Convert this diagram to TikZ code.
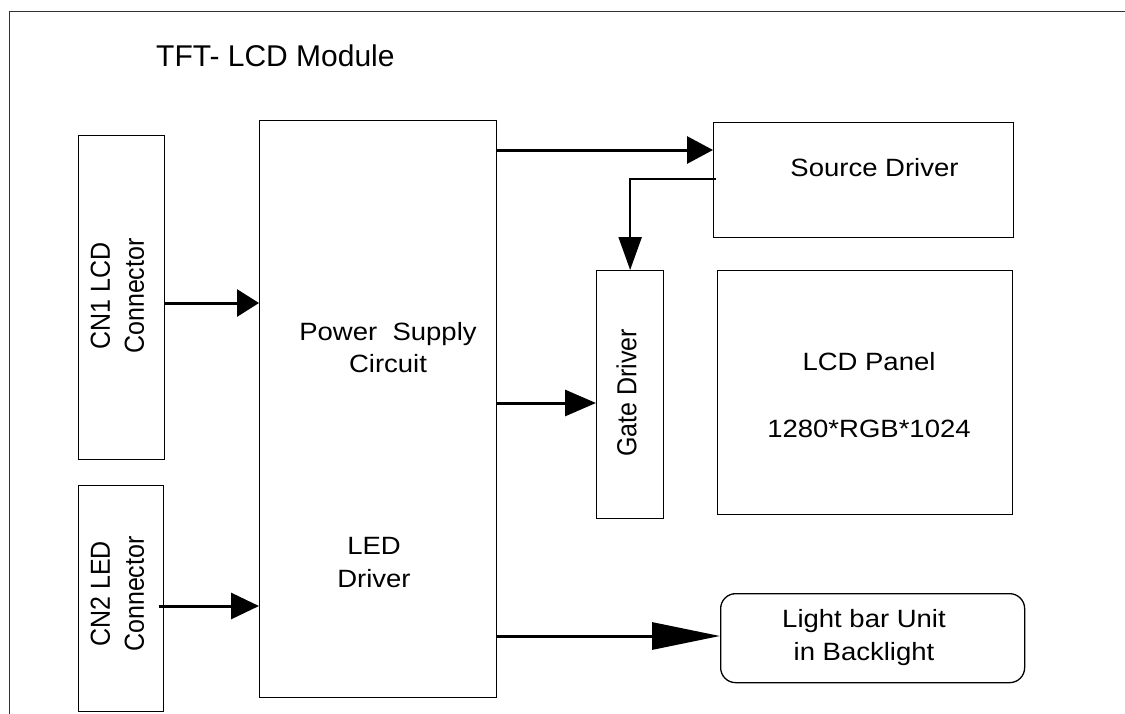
\documentclass[tikz,border=0pt]{standalone}
\usepackage{fontspec}
\setmainfont{Liberation Sans}
\newfontfamily\bodyfont[FakeStretch=1.1]{Liberation Sans}
\usetikzlibrary{arrows.meta}
\begin{document}
\begin{tikzpicture}[x=1pt,y=-1pt,
  box/.style={draw, line width=1.3pt, inner sep=0pt, anchor=north west},
  lbl/.style={font=\bodyfont\fontsize{25}{32.5}\selectfont, align=center, inner sep=0pt, anchor=base},
  rlbl/.style={font=\fontsize{25}{31}\selectfont, inner sep=0pt, rotate=90},
  conn/.style={line width=3pt},
  frame/.style={line width=1pt, draw=black!80}
]
\useasboundingbox (0,0) rectangle (1125,713);
\fill[white] (0,0) rectangle (1125,713);

% outer frame (open at right and bottom)
\coordinate (fbl) at (9,720);
\coordinate (ftl) at (9,11.5);
\coordinate (ftr) at (1130,11.5);
\draw[frame] (fbl) -- (ftl) -- (ftr);

\node[font=\fontsize{30}{36}\selectfont, anchor=base west, inner sep=0pt] (title) at (156,66.7) {TFT- LCD Module};

% boxes
\node[box, minimum width=86pt, minimum height=324pt] (cn1) at (78,135) {};
\node[box, minimum width=85pt, minimum height=226pt] (cn2) at (78,485) {};
\node[box, minimum width=237pt, minimum height=577pt] (ps) at (259,120) {};
\node[box, minimum width=300pt, minimum height=115pt] (src) at (713,122) {};
\node[box, minimum width=67pt, minimum height=248pt] (gate) at (596,270) {};
\node[box, minimum width=295pt, minimum height=244pt] (lcd) at (717,270) {};
\node[box, minimum width=304pt, minimum height=89pt, rounded corners=15pt] (lb) at (720,593) {};

% labels (anchor base = baseline of the last line)
\node[rlbl] (cn1t) at (120,296) {\scalebox{1}[1.1]{\begin{tabular}{@{}c@{}}CN1 LCD\\Connector\end{tabular}}};
\node[rlbl] (cn2t) at (120,594) {\scalebox{1}[1.1]{\begin{tabular}{@{}c@{}}CN2 LED\\Connector\end{tabular}}};
\node[lbl] (pst) at (388,372.7) {Power\ \ Supply\\Circuit};
\node[lbl] (ledt) at (374,587) {LED\\Driver};
\node[lbl] (srct) at (874.5,176.7) {Source Driver};
\node[rlbl] (gatet) at (626.5,393) {\scalebox{1}[1.1]{Gate Driver}};
\node[lbl] (lcdt) at (869,437.5) {LCD Panel\\[35pt]1280*RGB*1024};
\node[lbl] (lbt) at (864,660) {Light bar Unit\\in Backlight};

% connectors
\coordinate (y1) at (0,303);
\coordinate (y2) at (0,606);
\coordinate (y3) at (0,150);
\coordinate (y4) at (0,403);
\coordinate (y5) at (0,179);
\coordinate (y6) at (0,636);
\draw[conn, -{Triangle[length=22pt,width=27pt]}] (cn1.east |- y1) -- (ps.west |- y1);
\draw[conn, -{Triangle[length=28pt,width=26pt]}] ([xshift=-5pt]cn2.east |- y2) -- (ps.west |- y2);
\draw[conn, -{Triangle[length=26pt,width=27pt]}] (ps.east |- y3) -- (src.west |- y3);
\draw[conn, -{Triangle[length=31pt,width=26pt]}] (ps.east |- y4) -- (gate.west |- y4);
\draw[line width=2.3pt, -{Triangle[length=33pt,width=23pt]}] ([xshift=3pt]src.west |- y5) -| (gate.north);
\draw[conn, -{Triangle[length=68pt,width=27pt]}] (ps.east |- y6) -- (lb.west |- y6);
\end{tikzpicture}
\end{document}
